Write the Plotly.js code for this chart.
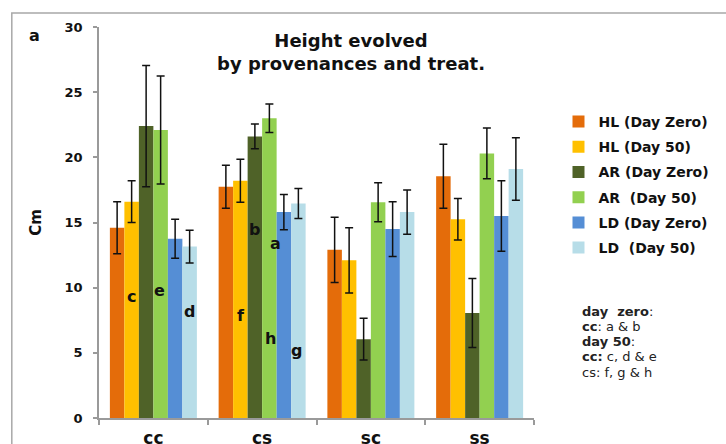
<!DOCTYPE html>
<html>
<head>
<meta charset="utf-8">
<script src="https://cdn.plot.ly/plotly-3.0.1.min.js"></script>
<style>html,body{margin:0;padding:0;background:#fff;}#chart{width:726px;height:444px;}</style>
</head>
<body>
<div id="chart"></div>
<script>
// ---- data ----
var categories = ["cc", "cs", "sc", "ss"];
var seriesNames = ["HL (Day Zero)", "HL (Day 50)", "AR (Day Zero)", "AR  (Day 50)", "LD (Day Zero)", "LD  (Day 50)"];
var hlDayZero = [14.6, 17.75, 12.9, 18.55];
var hlDay50   = [16.6, 18.2, 12.1, 15.25];
var arDayZero = [22.4, 21.6, 6.05, 8.05];
var arDay50   = [22.1, 23.0, 16.55, 20.3];
var ldDayZero = [13.75, 15.8, 14.5, 15.5];
var ldDay50   = [13.15, 16.45, 15.8, 19.1];
var hlDayZeroErr = [2.0, 1.65, 2.5, 2.45];
var hlDay50Err   = [1.6, 1.65, 2.5, 1.6];
var arDayZeroErr = [4.65, 0.95, 1.6, 2.65];
var arDay50Err   = [4.15, 1.1, 1.5, 1.95];
var ldDayZeroErr = [1.5, 1.35, 2.1, 2.7];
var ldDay50Err   = [1.25, 1.15, 1.7, 2.4];
var letterLabels = ["c", "e", "d", "f", "h", "b", "a", "g"];
var noteLines = ["<b>day  zero</b>:", "<b>cc</b>: a &amp; b", "<b>day 50</b>:", "<b>cc:</b> c, d &amp; e", "cs: f, g &amp; h"];

// ---- styles ----
var colors = ["#E46C0A", "#FFC000", "#4F6228", "#92D050", "#558ED5", "#B7DDE8"];
var values = [hlDayZero, hlDay50, arDayZero, arDay50, ldDayZero, ldDay50];
var errs = [hlDayZeroErr, hlDay50Err, arDayZeroErr, arDay50Err, ldDayZeroErr, ldDay50Err];
var FONT = "DejaVu Sans, Arial, sans-serif";

var traces = seriesNames.map(function (name, i) {
  return {
    type: "bar",
    name: name,
    x: categories,
    y: values[i],
    marker: {color: colors[i]},
    legendgroup: "g" + i,
    error_y: {type: "data", array: errs[i], visible: true, color: "#111", thickness: 1.5, width: 4}
  };
});

// letter positions (layout only)
var letterPos = [[-0.2, 9.3], [0.06, 9.8], [0.33, 8.2], [0.81, 7.85], [1.08, 6.1], [0.93, 14.5], [1.12, 13.4], [1.32, 5.2]];
var annotations = letterLabels.map(function (t, i) {
  return {x: letterPos[i][0], y: letterPos[i][1], xref: "x", yref: "y", text: t, xanchor: "center", yanchor: "middle",
          showarrow: false, font: {family: FONT, size: 16, weight: "bold", color: "#111"}};
});
// panel letter "a"
annotations.push({xref: "paper", yref: "paper", x: (33 - 99) / 444, y: (418 - 36) / 391, xanchor: "center", yanchor: "middle",
                  text: "a", showarrow: false, font: {family: FONT, size: 16, weight: "bold", color: "#111"}});
// note text lines
noteLines.forEach(function (t, i) {
  annotations.push({xref: "paper", yref: "paper", x: (590 - 99) / 444, y: (418 - (311 + 15.3 * i)) / 391,
                    xanchor: "left", yanchor: "middle", align: "left", text: t, showarrow: false,
                    font: {family: FONT, size: 13, color: "#222"}});
});

var layout = {
  width: 726, height: 444,
  margin: {l: 99, r: 183, t: 27, b: 26},
  paper_bgcolor: "#fff", plot_bgcolor: "#fff",
  font: {family: FONT, color: "#111"},
  title: {text: "Height evolved<br>by provenances and treat.", font: {family: FONT, size: 18, weight: "bold", color: "#111"},
          x: 351 / 726, xanchor: "center", xref: "container", y: 1 - 47 / 444, yanchor: "top", yref: "container"},
  barmode: "group", bargap: 0.2, bargroupgap: 0,
  showlegend: true,
  legend: {x: (568 - 99) / 444, xanchor: "left", y: (418 - 106) / 391, yanchor: "top",
           font: {family: FONT, size: 14, weight: "bold", color: "#111"}, tracegroupgap: 4, bgcolor: "rgba(0,0,0,0)",
           itemwidth: 30},
  xaxis: {type: "category", showline: true, linecolor: "#9a9a9a", linewidth: 1.5, showgrid: false, zeroline: false,
          ticks: "outside", tickson: "boundaries", ticklen: 5, tickcolor: "#9a9a9a", tickwidth: 1.5,
          tickfont: {family: FONT, size: 17, weight: "bold", color: "#111"}, ticklabelstandoff: 4},
  yaxis: {range: [0, 30], dtick: 5, showline: true, linecolor: "#9a9a9a", linewidth: 1.5, showgrid: false, zeroline: false,
          ticks: "outside", ticklen: 4, tickcolor: "#9a9a9a", tickwidth: 1.5,
          tickfont: {family: FONT, size: 13, weight: "bold", color: "#111"}, ticklabelstandoff: 8,
          title: {text: "Cm", font: {family: FONT, size: 15, weight: "bold", color: "#111"}, standoff: 19}},
  shapes: [{type: "rect", xref: "paper", yref: "paper", x0: (10 - 99) / 444, x1: (740 - 99) / 444,
            y0: (418 - 460) / 391, y1: (418 - 13) / 391, line: {color: "#a8a8a8", width: 1.5}, fillcolor: "rgba(0,0,0,0)", layer: "below"}],
  annotations: annotations
};

Plotly.newPlot("chart", traces, layout, {displayModeBar: false, responsive: false});
</script>
</body>
</html>
